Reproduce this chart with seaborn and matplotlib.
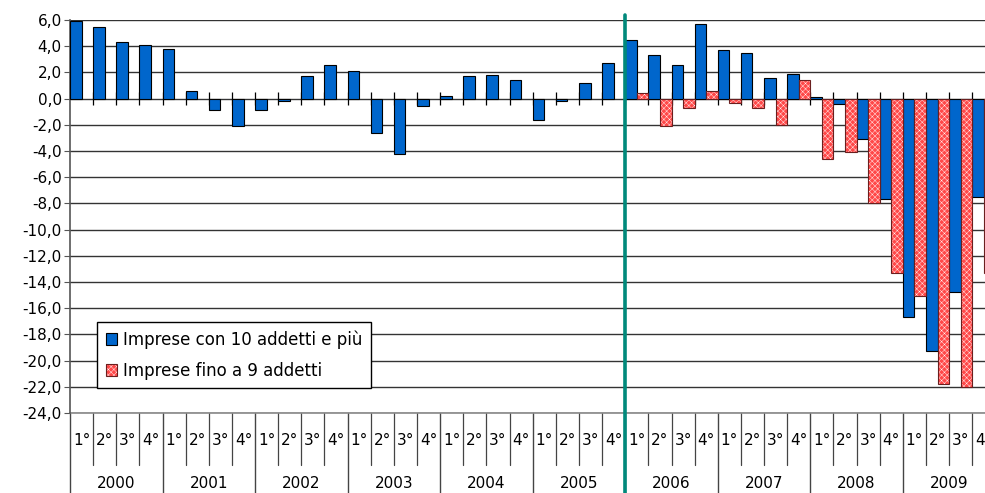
import matplotlib
matplotlib.use("Agg")
import matplotlib.pyplot as plt
from matplotlib.patches import Patch, Rectangle
import matplotlib.transforms as mtransforms
import seaborn as sns
import pandas as pd
import numpy as np

# Dati: variazioni tendenziali per trimestre
anni = ["2000", "2001", "2002", "2003", "2004", "2005", "2006", "2007", "2008", "2009"]
trimestri = ["1°", "2°", "3°", "4°"]
serie = ["Imprese con 10 addetti e più", "Imprese fino a 9 addetti"]

grandi = [5.9, 5.5, 4.3, 4.1, 3.8, 0.6, -0.9, -2.1, -0.9, -0.2, 1.7, 2.6,
          2.1, -2.6, -4.2, -0.6, 0.2, 1.7, 1.8, 1.4, -1.6, -0.2, 1.2, 2.7,
          4.5, 3.3, 2.6, 5.7, 3.7, 3.5, 1.6, 1.9, 0.1, -0.4, -3.1, -7.7,
          -16.7, -19.3, -14.8, -7.5]
piccole = [np.nan] * 24 + [0.4, -2.1, -0.7, 0.6, -0.3, -0.7, -2.0, 1.4,
                           -4.6, -4.1, -8.0, -13.3, -15.1, -21.8, -22.0, -13.3]

periodi = [f"{a}-{q}" for a in anni for q in trimestri]
df = pd.DataFrame({
    "periodo": periodi * 2,
    "serie": [serie[0]] * len(periodi) + [serie[1]] * len(periodi),
    "valore": grandi + piccole,
})

sns.set_style("white")
plt.rcParams["font.family"] = ["DejaVu Sans"]
plt.rcParams["axes.unicode_minus"] = False
plt.rcParams["hatch.linewidth"] = 0.3
plt.rcParams["text.color"] = "black"
plt.rcParams["ytick.color"] = "black"

blu = "#0066cc"
rosso = "#ff4848"
retino = "xxxxxx"

fig = plt.figure(figsize=(9.85, 4.93), dpi=100)
ax = fig.add_axes([70 / 985, 80 / 493, 915 / 985, 393 / 493])

sns.barplot(data=df, x="periodo", y="valore", hue="serie", order=periodi,
            hue_order=serie, palette=[blu, rosso], saturation=1, width=1.0,
            errorbar=None, edgecolor="black", linewidth=0.8, legend=False,
            ax=ax, zorder=3)

# retino a puntini per le piccole imprese
for p in ax.containers[1]:
    p.set_edgecolor("white")
    p.set_linewidth(0)
    p.set_hatch(retino)
    ax.add_patch(Rectangle(p.get_xy(), p.get_width(), p.get_height(),
                           fill=False, edgecolor="#6a1f1f", linewidth=0.8, zorder=4))

ax.set_xlim(-0.5, 39.05)
ax.set_ylim(-24, 6)
ax.set_yticks(range(-24, 7, 2))
ax.set_yticklabels([f"{v:.1f}".replace(".", ",") for v in range(-24, 7, 2)],
                   fontsize=11, color="black")
ax.yaxis.grid(True, color="#333333", linewidth=1)
ax.set_axisbelow(True)
ax.tick_params(axis="y", left=True, length=4, color="#555555", pad=2)
ax.set_xticks([])
ax.set_xlabel("")
ax.set_ylabel("")
for s in ["top", "right", "bottom"]:
    ax.spines[s].set_visible(False)
ax.spines["left"].set_color("#555555")
ax.spines["left"].set_linewidth(1.2)

# tacche sull'asse dello zero
ax.vlines(np.arange(0.5, 39, 1), -0.5, 0.5, color="black", linewidth=0.9, zorder=2)

# etichette a due livelli sotto il grafico
trans = mtransforms.blended_transform_factory(ax.transData, ax.transAxes)
for k in range(len(periodi)):
    ax.text(k, -0.069, trimestri[k % 4], transform=trans, ha="center", va="center",
            fontsize=11, color="black", clip_on=False)
    if k % 4 == 0:
        ax.plot([k - 0.5, k - 0.5], [0, -0.21], transform=trans, color="#444444",
                linewidth=1, clip_on=False)
    else:
        ax.plot([k - 0.5, k - 0.5], [0, -0.132], transform=trans, color="#444444",
                linewidth=0.9, clip_on=False)
for j, a in enumerate(anni):
    ax.text(4 * j + 1.5, -0.18, a, transform=trans, ha="center", va="center",
            fontsize=11, color="black", clip_on=False)
ax.plot([-0.5, 39.05], [0, 0], transform=trans, color="#888888", linewidth=1.2, clip_on=False)

# linea verticale tra 2005 e 2006
ax.plot([23.5, 23.5], [-0.21, 1.012], transform=trans, color="#00897b",
        linewidth=2.6, clip_on=False, zorder=6)

h1 = Patch(facecolor=blu, edgecolor="black", linewidth=0.8)
h2a = Patch(facecolor=rosso, edgecolor="white", linewidth=0, hatch=retino)
h2b = Patch(fill=False, edgecolor="#6a1f1f", linewidth=0.8)
leg = ax.legend([h1, (h2a, h2b)], serie, loc="lower left",
                bbox_to_anchor=(0.03, 0.064), fontsize=12, frameon=True,
                fancybox=False, edgecolor="black", framealpha=1,
                handlelength=0.7, handleheight=0.7, handletextpad=0.35,
                borderpad=0.5, labelspacing=0.75, borderaxespad=0)
leg.get_frame().set_linewidth(1)
leg.set_zorder(7)

fig.savefig("out.png", dpi=100)
